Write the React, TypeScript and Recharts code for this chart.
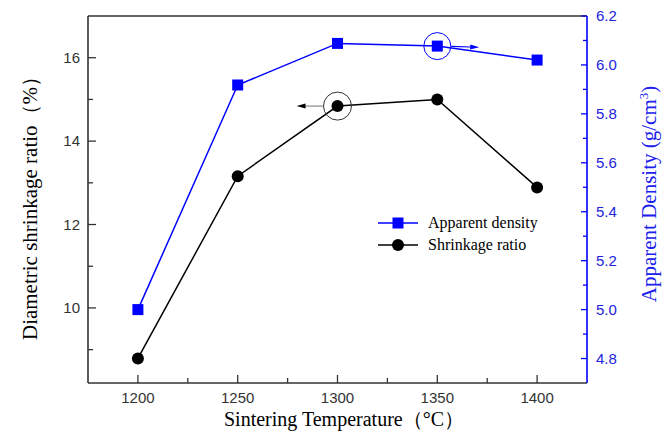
import {
  LineChart,
  Line,
  XAxis,
  YAxis,
  Legend,
  ReferenceDot,
  ReferenceLine,
} from "recharts";

const temperatures = [1200, 1250, 1300, 1350, 1400];
const shrinkage = [8.79, 13.16, 14.84, 15.0, 12.89];
const density = [5.0, 5.918, 6.088, 6.077, 6.02];

const xTicks = [1200, 1225, 1250, 1275, 1300, 1325, 1350, 1375, 1400];
const leftTicks = [9, 10, 11, 12, 13, 14, 15, 16];
const rightTicks = [4.8, 4.9, 5.0, 5.1, 5.2, 5.3, 5.4, 5.5, 5.6, 5.7, 5.8, 5.9, 6.0, 6.1, 6.2];

const data = temperatures.map((t, i) => ({
  temp: t,
  shrinkage: shrinkage[i],
  density: density[i],
}));

const BLUE = "#0000ff";
const FRAME = "#333";
const SANS = "'Liberation Sans', Arial, sans-serif";
const SERIF = "'Liberation Serif', 'Times New Roman', serif";

const XTick = (props: any) => {
  const { x, y, payload } = props;
  const v = payload.value;
  const major = v % 50 === 0;
  return (
    <g>
      <line x1={x} x2={x} y1={y} y2={y - (major ? 8 : 5)} stroke={FRAME} strokeWidth={1.3} />
      {major && (
        <text x={x} y={y + 20} textAnchor="middle" fontFamily={SANS} fontSize={15} fill="#333">
          {v}
        </text>
      )}
    </g>
  );
};

const LeftTick = (props: any) => {
  const { x, y, payload } = props;
  const v = payload.value;
  const major = v % 2 === 0;
  return (
    <g>
      <line x1={x} x2={x + (major ? 8 : 5)} y1={y} y2={y} stroke={FRAME} strokeWidth={1.3} />
      {major && (
        <text x={x - 8} y={y + 5} textAnchor="end" fontFamily={SANS} fontSize={15} fill="#333">
          {v}
        </text>
      )}
    </g>
  );
};

const RightTick = (props: any) => {
  const { x, y, payload } = props;
  const v = payload.value;
  const major = Math.round(v * 10) % 2 === 0;
  return (
    <g>
      <line x1={x} x2={x - (major ? 6 : 4)} y1={y} y2={y} stroke={BLUE} strokeWidth={1.3} />
      {major && (
        <text x={x + 9} y={y + 5} textAnchor="start" fontFamily={SANS} fontSize={15} fill="#2222dd">
          {v.toFixed(1)}
        </text>
      )}
    </g>
  );
};

const SquareDot = (props: any) => {
  const { cx, cy } = props;
  if (cx == null || cy == null) return null;
  return <rect x={cx - 5.5} y={cy - 5.5} width={11} height={11} fill={BLUE} />;
};

const CircleDot = (props: any) => {
  const { cx, cy } = props;
  if (cx == null || cy == null) return null;
  return <circle cx={cx} cy={cy} r={6} fill="#000" />;
};

const arrowShape = (color: string, lineColor: string) => (props: any) => {
  const { x1, y1, x2, y2 } = props;
  const dx = x2 - x1;
  const dy = y2 - y1;
  const len = Math.sqrt(dx * dx + dy * dy) || 1;
  const ux = dx / len;
  const uy = dy / len;
  const hl = 9;
  const hw = 2.5;
  const bx = x2 - ux * hl;
  const by = y2 - uy * hl;
  return (
    <g>
      <line x1={x1} y1={y1} x2={bx} y2={by} stroke={lineColor} strokeWidth={1.2} />
      <polygon
        points={`${x2},${y2} ${bx - uy * hw},${by + ux * hw} ${bx + uy * hw},${by - ux * hw}`}
        fill={color}
      />
    </g>
  );
};

const LegendContent = () => (
  <div style={{ fontFamily: SERIF, fontSize: 16, color: "#000", lineHeight: "22px" }}>
    <div style={{ display: "flex", alignItems: "center" }}>
      <svg width={40} height={14}>
        <line x1={0} x2={40} y1={7} y2={7} stroke={BLUE} strokeWidth={1.5} />
        <rect x={14.5} y={1.5} width={11} height={11} fill={BLUE} />
      </svg>
      <span style={{ marginLeft: 10 }}>Apparent density</span>
    </div>
    <div style={{ display: "flex", alignItems: "center" }}>
      <svg width={40} height={14}>
        <line x1={0} x2={40} y1={7} y2={7} stroke="#000" strokeWidth={1.5} />
        <circle cx={20} cy={7} r={6} fill="#000" />
      </svg>
      <span style={{ marginLeft: 10 }}>Shrinkage ratio</span>
    </div>
  </div>
);

const App = () => {
  return (
    <div style={{ position: "absolute", left: 0, top: 0 }}>
      <LineChart
        width={663}
        height={431}
        data={data}
        margin={{ top: 16, right: 0, bottom: 0, left: 0 }}
      >
        <XAxis
          dataKey="temp"
          type="number"
          domain={[1175, 1425]}
          ticks={xTicks}
          interval={0}
          tickSize={0}
          tickMargin={0}
          tickLine={false}
          tick={<XTick />}
          axisLine={{ stroke: FRAME, strokeWidth: 1.6 }}
          height={48}
          label={{
            content: () => (
              <text x={344} y={426} textAnchor="middle" fontFamily={SERIF} fontSize={20} fill="#000">
                Sintering Temperature（°C）
              </text>
            ),
          }}
        />
        <YAxis
          yAxisId="left"
          orientation="left"
          type="number"
          domain={[8.2, 17]}
          allowDataOverflow
          ticks={leftTicks}
          interval={0}
          tickSize={0}
          tickMargin={0}
          tickLine={false}
          tick={<LeftTick />}
          axisLine={{ stroke: FRAME, strokeWidth: 1.6 }}
          width={88}
          label={{
            content: () => (
              <text
                x={0}
                y={0}
                transform="translate(37, 203) rotate(-90)"
                textAnchor="middle"
                fontFamily={SERIF}
                fontSize={21}
                fill="#000"
              >
                Diametric shrinkage ratio（%）
              </text>
            ),
          }}
        />
        <YAxis
          yAxisId="right"
          orientation="right"
          type="number"
          domain={[4.7, 6.2]}
          allowDataOverflow
          ticks={rightTicks}
          interval={0}
          tickSize={0}
          tickMargin={0}
          tickLine={false}
          tick={<RightTick />}
          axisLine={{ stroke: BLUE, strokeWidth: 1.6 }}
          width={76}
          label={{
            content: () => (
              <text
                x={0}
                y={0}
                transform="translate(656, 194) rotate(-90)"
                textAnchor="middle"
                fontFamily={SERIF}
                fontSize={21}
                fill="#2020ee"
              >
                Apparent Density (g/cm
                <tspan dy={-8} fontSize={13}>3</tspan>
                <tspan dy={8}>)</tspan>
              </text>
            ),
          }}
        />
        <ReferenceLine yAxisId="left" y={17} stroke={FRAME} strokeWidth={1.6} />
        <Legend
          layout="vertical"
          align="center"
          verticalAlign="middle"
          content={<LegendContent />}
          wrapperStyle={{ left: 378, top: 212, width: "auto", height: "auto" }}
        />
        <Line
          yAxisId="left"
          dataKey="shrinkage"
          stroke="#000"
          strokeWidth={1.5}
          dot={<CircleDot />}
          activeDot={false}
          isAnimationActive={false}
        />
        <Line
          yAxisId="right"
          dataKey="density"
          stroke={BLUE}
          strokeWidth={1.5}
          dot={<SquareDot />}
          activeDot={false}
          isAnimationActive={false}
        />
        <ReferenceDot
          yAxisId="left"
          x={1300}
          y={14.84}
          r={14}
          fill="none"
          stroke="#333"
          strokeWidth={1}
        />
        <ReferenceLine
          yAxisId="left"
          segment={[
            { x: 1293, y: 14.84 },
            { x: 1279.5, y: 14.84 },
          ]}
          shape={arrowShape("#000", "#888")}
        />
        <ReferenceDot
          yAxisId="right"
          x={1350}
          y={6.077}
          r={13.5}
          fill="none"
          stroke={BLUE}
          strokeWidth={1}
        />
        <ReferenceLine
          yAxisId="right"
          segment={[
            { x: 1357, y: 6.076 },
            { x: 1371, y: 6.072 },
          ]}
          shape={arrowShape(BLUE, BLUE)}
        />
      </LineChart>
    </div>
  );
};

export default App;
